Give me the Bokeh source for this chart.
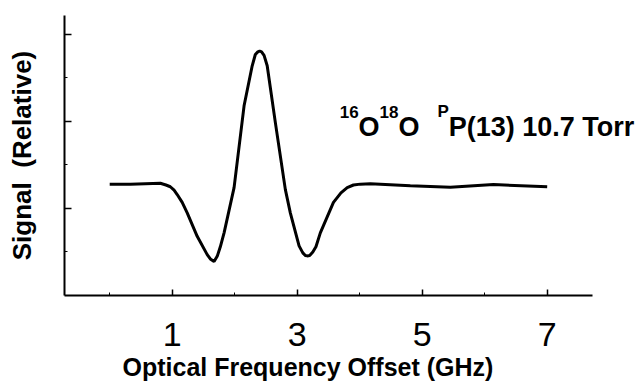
from bokeh.plotting import figure
from bokeh.models import Range1d, FixedTicker, Label, CustomJSTickFormatter, Title
from bokeh.embed import file_html
from bokeh.resources import INLINE

# Data
freq = [0.0, 0.33, 0.81, 0.90, 0.97, 1.03, 1.08, 1.16, 1.24, 1.40, 1.56, 1.61, 1.67,
        1.72, 1.77, 1.83, 1.99, 2.15, 2.28, 2.33, 2.37, 2.40, 2.43, 2.47, 2.52, 2.65,
        2.81, 2.89, 3.03, 3.09, 3.13, 3.16, 3.20, 3.25, 3.30, 3.37, 3.58, 3.70, 3.80,
        3.90, 4.01, 4.17, 4.81, 5.45, 6.14, 7.0]
signal = [1.28, 1.28, 1.29, 1.27, 1.25, 1.21, 1.16, 1.07, 0.95, 0.68, 0.47, 0.42, 0.39,
          0.45, 0.56, 0.72, 1.24, 2.18, 2.64, 2.77, 2.80, 2.81, 2.80, 2.76, 2.64, 1.99,
          1.22, 0.95, 0.57, 0.49, 0.46, 0.455, 0.46, 0.50, 0.56, 0.72, 1.07, 1.18, 1.24,
          1.27, 1.28, 1.285, 1.26, 1.245, 1.275, 1.25]

x_ticks = [1, 3, 5, 7]
x_minor = [0, 2, 4, 6]
y_ticks = [1, 2, 3]
y_minor = [0.5, 1.5, 2.5]

FONT = "Liberation Sans"

p = figure(width=643, height=388, output_backend="svg", toolbar_location=None,
           x_range=Range1d(-0.7232, 8.541), y_range=Range1d(0, 3.218),
           min_border_left=64, min_border_top=15, min_border_right=0, min_border_bottom=93)
p.outline_line_color = None
p.grid.visible = False
p.background_fill_color = "white"
p.border_fill_color = "white"

p.line(freq, signal, line_color="black", line_width=3)

# x axis
xa = p.xaxis[0]
xa.bounds = (-0.7232, 7.72)
xa.ticker = FixedTicker(ticks=x_ticks, minor_ticks=x_minor)
xa.axis_line_width = 2
xa.major_tick_in = 6
xa.major_tick_out = 0
xa.minor_tick_in = 3
xa.minor_tick_out = 0
xa.major_tick_line_width = 1.5
xa.major_label_text_font = FONT
xa.major_label_text_font_size = "34px"
xa.major_label_text_color = "black"
xa.major_label_standoff = 27

# x-axis title, placed as a below title so it can be aligned like the reference
p.add_layout(Title(text="Optical Frequency Offset (GHz)", align="left", offset=58,
                   text_font=FONT, text_font_style="bold", text_font_size="25px",
                   text_color="black", standoff=4), "below")

# y axis
ya = p.yaxis[0]
ya.ticker = FixedTicker(ticks=y_ticks, minor_ticks=y_minor)
ya.formatter = CustomJSTickFormatter(code="return ''")
ya.axis_line_width = 2
ya.major_tick_in = 7
ya.major_tick_out = 0
ya.minor_tick_in = 3
ya.minor_tick_out = 0
ya.major_tick_line_width = 1.5
ya.major_label_standoff = 0
ya.axis_label = "Signal\u00a0 (Relative)"
ya.axis_label_text_font = FONT
ya.axis_label_text_font_style = "bold"
ya.axis_label_text_font_size = "26px"
ya.axis_label_standoff = 28
ya.axis_label_text_color = "black"

# annotation: 16O18O  PP(13) 10.7 Torr
ann_x = 3.68
ann_y = 1.94
pieces = [("16", 0, 15, "17px"), ("O", 18.9, 0, "27px"), ("18", 39.9, 15, "17px"),
          ("O", 58.8, 0, "27px"), ("P", 97.8, 15, "17px"), ("P(13) 10.7 Torr", 109.1, 0, "27px")]
for txt, dx, dy, fs in pieces:
    p.add_layout(Label(x=ann_x, y=ann_y, x_offset=dx, y_offset=dy, text=txt,
                       text_font=FONT, text_font_style="bold", text_font_size=fs,
                       text_color="black", text_baseline="alphabetic", text_align="left"))

open("out.html", "w").write(file_html(p, INLINE))
